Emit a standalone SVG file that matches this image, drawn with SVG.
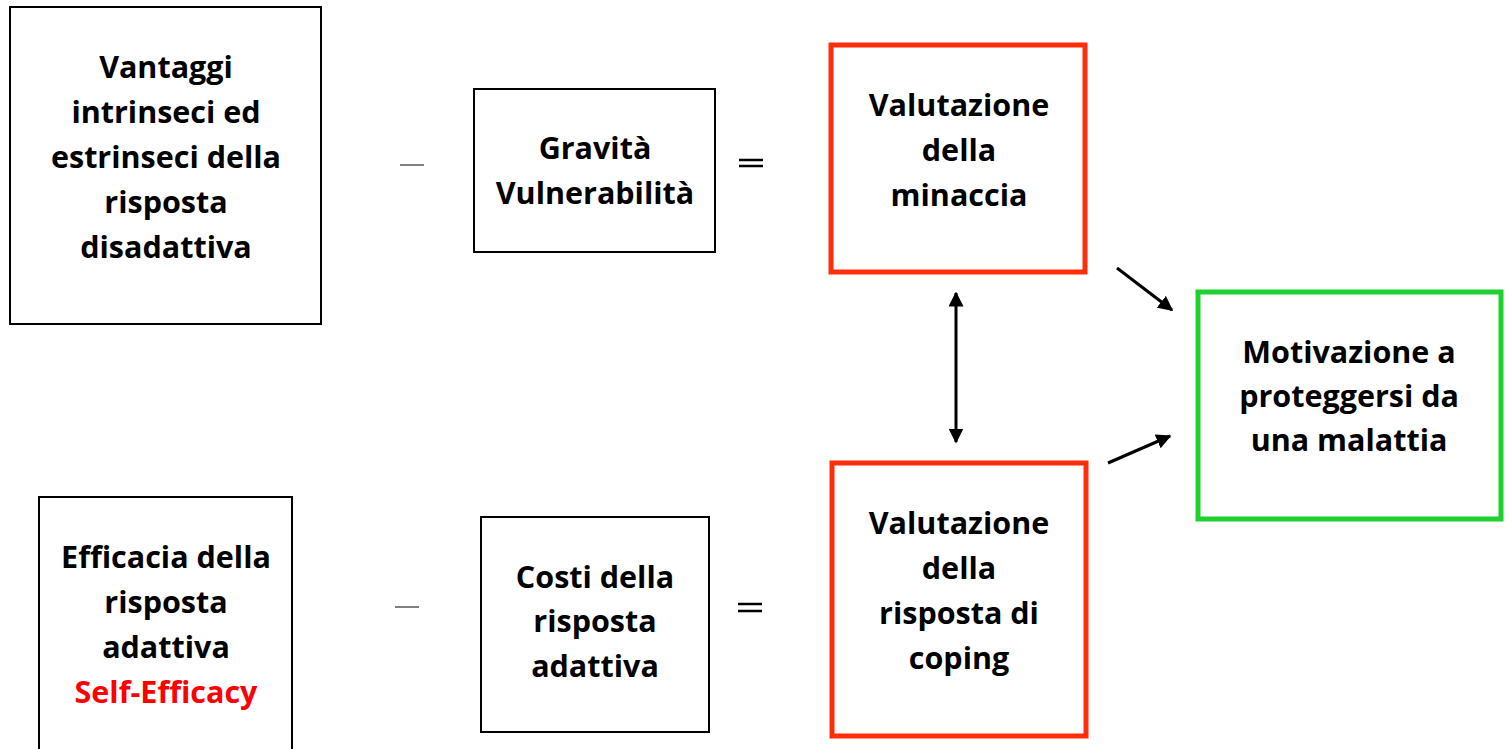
<svg xmlns="http://www.w3.org/2000/svg" width="1506" height="749" viewBox="0 0 1506 749">
<defs>
<style>
.box{fill:#fff;stroke:#000;stroke-width:2}
.red{fill:#fff;stroke:#ff2d0a;stroke-width:5}
.green{fill:#fff;stroke:#1fd12f;stroke-width:5}
text{font-family:"Open Sans","Liberation Sans",sans-serif;font-weight:bold;font-size:30.5px;text-anchor:middle;fill:#000}
.conn{stroke:#000;stroke-width:3;fill:none}
</style>
<marker id="ah" viewBox="0 0 10 10" refX="9" refY="5" markerWidth="5" markerHeight="5" orient="auto-start-reverse" markerUnits="strokeWidth">
<path d="M0,0 L10,5 L0,10 z" fill="#000"/>
</marker>
</defs>
<rect width="1506" height="749" fill="#fff"/>
<g id="n1"><rect class="box" x="10" y="7" width="311" height="317"/>
<text x="166" y="78">Vantaggi</text><text x="166" y="123">intrinseci ed</text><text x="166" y="168">estrinseci della</text><text x="166" y="213">risposta</text><text x="166" y="258">disadattiva</text></g>
<g id="n2"><rect class="box" x="474" y="89" width="241" height="163"/>
<text x="595" y="159">Gravità</text><text x="595" y="204">Vulnerabilità</text></g>
<g id="n3"><rect class="red" x="831" y="45" width="254" height="227"/>
<text x="959" y="116">Valutazione</text><text x="959" y="161">della</text><text x="959" y="206">minaccia</text></g>
<g id="n4"><rect class="green" x="1198" y="292" width="303" height="227"/>
<text x="1349" y="363">Motivazione a</text><text x="1349" y="407">proteggersi da</text><text x="1349" y="451">una malattia</text></g>
<g id="n5"><rect class="box" x="39" y="497" width="253" height="262"/>
<text x="166" y="568">Efficacia della</text><text x="166" y="613">risposta</text><text x="166" y="658">adattiva</text><text x="166" y="703" style="fill:#f00">Self-Efficacy</text></g>
<g id="n6"><rect class="box" x="481" y="517" width="228" height="215"/>
<text x="595" y="588">Costi della</text><text x="595" y="632">risposta</text><text x="595" y="677">adattiva</text></g>
<g id="n7"><rect class="red" x="832" y="463" width="254" height="273"/>
<text x="959" y="534">Valutazione</text><text x="959" y="579">della</text><text x="959" y="624">risposta di</text><text x="959" y="669">coping</text></g>
<g id="ops">
<line x1="400" y1="165" x2="424" y2="165" stroke="#808080" stroke-width="2"/>
<line x1="739" y1="160" x2="763" y2="160" stroke="#000" stroke-width="2.5"/>
<line x1="739" y1="166" x2="763" y2="166" stroke="#000" stroke-width="2.5"/>
<line x1="395" y1="607" x2="419" y2="607" stroke="#808080" stroke-width="2"/>
<line x1="738" y1="604" x2="762" y2="604" stroke="#000" stroke-width="2.5"/>
<line x1="738" y1="611" x2="762" y2="611" stroke="#000" stroke-width="2.5"/>
</g>
<g id="connectors">
<line class="conn" x1="1117" y1="268" x2="1172" y2="310" marker-end="url(#ah)"/>
<line class="conn" x1="1108" y1="463" x2="1170" y2="436" marker-end="url(#ah)"/>
<line class="conn" x1="956" y1="293" x2="956" y2="442" marker-start="url(#ah)" marker-end="url(#ah)"/>
</g>
</svg>
